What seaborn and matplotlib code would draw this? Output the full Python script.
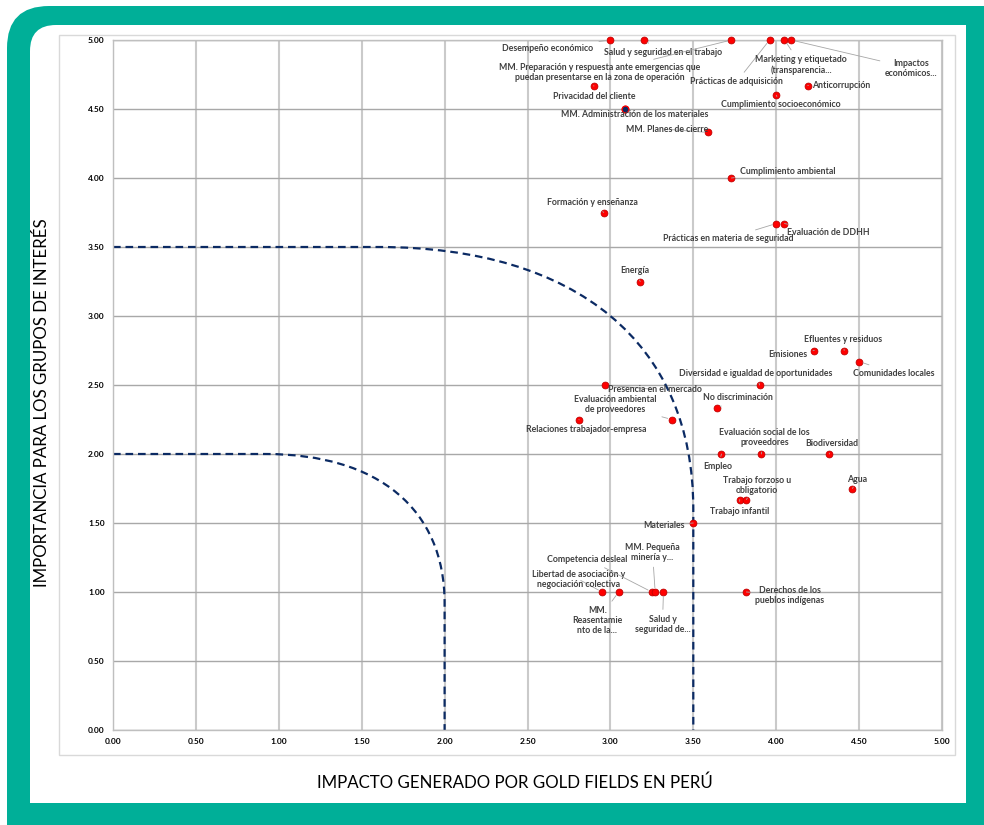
import numpy as np
import pandas as pd
import matplotlib
matplotlib.use("Agg")
import matplotlib.pyplot as plt
import seaborn as sns
from matplotlib.path import Path
from matplotlib.patches import PathPatch, FancyBboxPatch, Rectangle
from matplotlib.ticker import FormatStrFormatter
from matplotlib.transforms import Affine2D

# ---------------- DATA ----------------
temas = [
    "Desempeño económico", "Salud y seguridad en el trabajo",
    "MM. Preparación y respuesta ante emergencias que\npuedan presentarse en la zona de operación",
    "Prácticas de adquisición", "Marketing y etiquetado\n(transparencia...", "Impactos\neconómicos...",
    "Privacidad del cliente", "MM. Administración de los materiales", "MM. Planes de cierre",
    "Cumplimiento socioeconómico", "Anticorrupción", "Cumplimiento ambiental",
    "Formación y enseñanza", "Prácticas en materia de seguridad", "Evaluación de DDHH",
    "Energía", "Emisiones", "Efluentes y residuos", "Comunidades locales",
    "Diversidad e igualdad de oportunidades", "Presencia en el mercado",
    "Evaluación ambiental\nde proveedores", "No discriminación", "Relaciones trabajador-empresa",
    "Empleo", "Evaluación social de los\nproveedores", "Biodiversidad", "Agua",
    "Trabajo infantil", "Trabajo forzoso u\nobligatorio", "Materiales",
    "Libertad de asociación y\nnegociación colectiva", "MM.\nReasentamie\nnto de la...",
    "Competencia desleal", "MM. Pequeña\nminería y...", "Salud y\nseguridad de...",
    "Derechos de los\npueblos indígenas",
]
impacto = [
    3.00, 3.20, 3.73, 3.96, 4.05, 4.09,
    2.90, 3.09, 3.59, 4.00, 4.19, 3.73,
    2.96, 4.00, 4.05, 3.18, 4.23, 4.41, 4.50,
    3.90, 2.97, 3.37, 3.64, 2.81,
    3.67, 3.91, 4.32, 4.46, 3.78, 3.82, 3.50,
    2.95, 3.05, 3.25, 3.27, 3.32, 3.82,
]
importancia = [
    5.00, 5.00, 5.00, 5.00, 5.00, 5.00,
    4.67, 4.50, 4.33, 4.60, 4.67, 4.00,
    3.75, 3.67, 3.67, 3.25, 2.75, 2.75, 2.67,
    2.50, 2.50, 2.25, 2.33, 2.25,
    2.00, 2.00, 2.00, 1.75, 1.67, 1.67, 1.50,
    1.00, 1.00, 1.00, 1.00, 1.00, 1.00,
]
eje_ticks = [0.0, 0.5, 1.0, 1.5, 2.0, 2.5, 3.0, 3.5, 4.0, 4.5, 5.0]

# quadrant boundaries: straight run, rounded corner (cubic handles), straight run
curva_ext_x = [0.0, 1.60, 2.80, 3.50, 3.50, 3.50]
curva_ext_y = [3.50, 3.50, 3.50, 2.80, 1.60, 0.0]
curva_int_x = [0.0, 0.92, 1.60, 2.00, 2.00, 2.00]
curva_int_y = [2.00, 2.00, 2.00, 1.60, 0.92, 0.0]
curva_codigos = [Path.MOVETO, Path.LINETO, Path.CURVE4, Path.CURVE4, Path.CURVE4, Path.LINETO]

# ---------------- LAYOUT (label placement) ----------------
etiqueta_x = [
    2.624, 3.317, 2.937, 3.762, 4.150, 4.816,
    2.903, 3.146, 3.341, 4.028, 4.390, 4.068,
    2.894, 3.711, 4.314, 3.145, 4.072, 4.402, 4.712,
    3.877, 3.270, 3.030, 3.770, 2.856,
    3.649, 3.929, 4.337, 4.490, 3.777, 3.882, 3.323,
    2.810, 2.922, 2.862, 3.254, 3.314, 4.083,
]
etiqueta_y = [
    4.942, 4.913, 4.764, 4.698, 4.821, 4.795,
    4.594, 4.457, 4.353, 4.534, 4.667, 4.048,
    3.824, 3.563, 3.606, 3.331, 2.722, 2.831, 2.585,
    2.585, 2.468, 2.362, 2.411, 2.179,
    1.911, 2.121, 2.077, 1.817, 1.585, 1.773, 1.483,
    1.091, 0.792, 1.239, 1.288, 0.766, 0.978,
]

df = pd.DataFrame({"tema": temas, "impacto": impacto, "importancia": importancia})

W, H = 984, 825
TEAL = "#00AF98"
NAVY = "#0B2A63"
LABEL_COLOR = "#404040"

sns.set_style("white")
plt.rcParams["font.family"] = ["Lato", "DejaVu Sans"]
plt.rcParams["lines.scale_dashes"] = False

fig = plt.figure(figsize=(W / 100, H / 100), dpi=100)
fig.patch.set_facecolor("white")

# pixel coordinate transform (origin top-left)
px = Affine2D().scale(1 / W, -1 / H).translate(0, 1) + fig.transFigure

# teal frame with rounded top-left corner
fig.patches.append(FancyBboxPatch((7, 6), 1100, 900, boxstyle="round,pad=0,rounding_size=42",
                                  transform=px, facecolor=TEAL, edgecolor="none", zorder=-3))
# inner white panel, only top-left rounded
fig.patches.append(FancyBboxPatch((30, 25), 936, 778, boxstyle="round,pad=0,rounding_size=26",
                                  transform=px, facecolor="white", edgecolor="none", zorder=-2))
fig.patches.append(Rectangle((60, 25), 906, 778, transform=px, facecolor="white", edgecolor="none", zorder=-2))
fig.patches.append(Rectangle((30, 55), 936, 748, transform=px, facecolor="white", edgecolor="none", zorder=-2))
# chart area border
fig.patches.append(Rectangle((59, 35), 896, 720, transform=px, facecolor="none",
                             edgecolor="#D9D9D9", linewidth=1.0, zorder=-1))

ax = fig.add_axes([113 / W, 1 - 730 / H, (942 - 113) / W, (730 - 40) / H])
ax.set_zorder(5)
ax.set_facecolor("white")

# grid
ax.set_xlim(0, 5)
ax.set_ylim(0, 5)
ax.set_xticks(eje_ticks)
ax.set_yticks(eje_ticks)
ax.xaxis.set_major_formatter(FormatStrFormatter("%.2f"))
ax.yaxis.set_major_formatter(FormatStrFormatter("%.2f"))
ax.grid(axis="x", color="#CACACA", linewidth=1.5, zorder=0)
ax.grid(axis="y", color="#A8A8A8", linewidth=1.0, zorder=0)
ax.set_axisbelow(True)
for s in ax.spines.values():
    s.set_color("#BFBFBF")
    s.set_linewidth(1.0)
ax.tick_params(axis="both", length=0, labelsize=6, pad=6, labelcolor="black")
for lab in ax.get_xticklabels() + ax.get_yticklabels():
    lab.set_fontweight("bold")

# quadrant boundary curves
for cx, cy in [(curva_ext_x, curva_ext_y), (curva_int_x, curva_int_y)]:
    ruta = Path(np.column_stack([cx, cy]), curva_codigos)
    ax.add_patch(PathPatch(ruta, facecolor="none", edgecolor=NAVY,
                           linewidth=1.6, linestyle=(0, (5.5, 3.5)), zorder=2))

# points
sns.scatterplot(data=df, x="impacto", y="importancia", ax=ax, color="#FF0000",
                edgecolor="#C00000", linewidth=0.6, s=24, zorder=4, clip_on=False, legend=False)
# the dark point (MM. Administración de los materiales)
idx_dark = temas.index("MM. Administración de los materiales")
ax.scatter([impacto[idx_dark]], [importancia[idx_dark]], s=24, color=NAVY, edgecolor="#FF0000",
           linewidth=0.9, zorder=5, clip_on=False)

# labels
for t, x, y, lx, ly in zip(temas, impacto, importancia, etiqueta_x, etiqueta_y):
    ax.annotate(t, xy=(x, y), xytext=(lx, ly), textcoords="data", ha="center", va="center",
                fontsize=6.3, fontweight="bold", color=LABEL_COLOR, linespacing=1.15,
                annotation_clip=False, zorder=6,
                arrowprops=dict(arrowstyle="-", color="#A6A6A6", lw=0.6, shrinkA=1.5, shrinkB=3))

ax.set_xlabel("")
ax.set_ylabel("")

fig.text(515 / W, 1 - 783 / H, "IMPACTO GENERADO POR GOLD FIELDS EN PERÚ", ha="center", va="center",
         fontsize=12.2, color="black")
fig.text(42 / W, 1 - 403 / H, "IMPORTANCIA PARA LOS GRUPOS DE INTERÉS", ha="center", va="center",
         rotation=90, fontsize=12.2, color="black")

fig.savefig("out.png", dpi=100, facecolor=fig.get_facecolor())
